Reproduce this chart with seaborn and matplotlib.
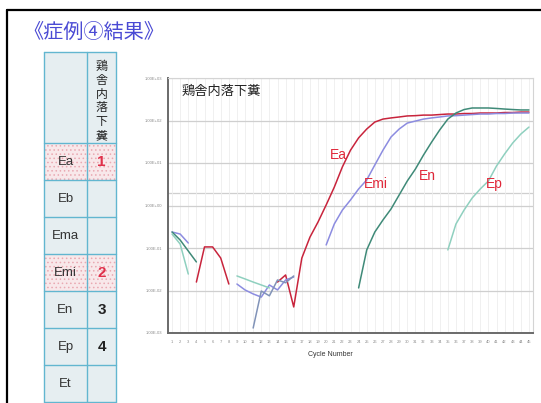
import numpy as np
import pandas as pd
import matplotlib
matplotlib.use("Agg")
import matplotlib.pyplot as plt
import seaborn as sns
from matplotlib.patches import Rectangle
from matplotlib.lines import Line2D
from matplotlib.ticker import FixedLocator, FuncFormatter

# ---------------- data ----------------
nan = np.nan
cycles = list(range(1, 46))

ea = [nan, nan, nan, 0.0158, 0.106, 0.106, 0.058, 0.0142, nan, nan,
      nan, nan, nan, 0.0158, 0.0232, 0.0041, 0.058, 0.18, 0.41, 1.03,
      2.7, 8.1, 20, 39, 63, 92, 108, 115, 121, 128,
      130, 134, 134, 138, 142, 142, 146, 146, 150, 150,
      150, 154, 154, 158, 158]
emi = [0.238, 0.213, 0.131, nan, nan, nan, nan, nan, 0.0142, 0.0103,
       0.0083, 0.0070, 0.0135, 0.0103, 0.0177, 0.0208, nan, nan, nan, 0.118,
       0.367, 0.78, 1.35, 2.45, 4.0, 9.0, 20, 41, 63, 87,
       97, 108, 115, 121, 128, 130, 134, 138, 142, 142,
       146, 146, 150, 150, 150]
en = [0.238, 0.154, 0.085, 0.047, nan, nan, nan, nan, nan, nan,
      nan, nan, nan, nan, nan, nan, nan, nan, nan, nan,
      nan, nan, nan, 0.0115, 0.090, 0.238, 0.456, 0.83, 1.77, 3.77,
      7.2, 15.4, 31, 60, 108, 150, 181, 197, 197, 197,
      192, 186, 181, 177, 177]
ep = [0.213, 0.124, 0.0244, nan, nan, nan, nan, nan, 0.022, 0.0187,
      0.0158, 0.0135, 0.0115, nan, nan, nan, nan, nan, nan, nan,
      nan, nan, nan, nan, nan, nan, nan, nan, nan, nan,
      nan, nan, nan, nan, 0.090, 0.367, 0.78, 1.5, 2.45, 3.77,
      8.5, 16.3, 29.6, 48, 70]
other = [nan, nan, nan, nan, nan, nan, nan, nan, nan, nan,
         0.00131, 0.0097, 0.0075, 0.0177, 0.0152, 0.022, nan, nan, nan, nan,
         nan, nan, nan, nan, nan, nan, nan, nan, nan, nan,
         nan, nan, nan, nan, nan, nan, nan, nan, nan, nan,
         nan, nan, nan, nan, nan]

threshold = 1.97
y_ticks = [1e-3, 1e-2, 1e-1, 1e0, 1e1, 1e2, 1e3]

table_targets = ["Ea", "Eb", "Ema", "Emi", "En", "Ep", "Et"]
table_ranks = ["1", "", "", "2", "3", "4", ""]
rank_colors = ["#e0304a", None, None, "#e0304a", "#222222", "#222222", None]
highlight_rows = [True, False, False, True, False, False, False]
header_text = "鶏舎内落下糞"
title_text = "《症例④結果》"

series = {"Ea": ea, "Emi": emi, "En": en, "Ep": ep, "other": other}
palette = {"Ea": "#c8243c", "Emi": "#8c8ce0", "En": "#3f8a78",
           "Ep": "#8fd0bf", "other": "#8193b8"}

# long-form table, split into contiguous segments
rows = []
for name, vals in series.items():
    seg = 0
    prev_nan = True
    for c, v in zip(cycles, vals):
        if np.isnan(v):
            prev_nan = True
            continue
        if prev_nan:
            seg += 1
            prev_nan = False
        rows.append({"series": name, "unit": f"{name}-{seg}", "cycle": c, "value": v})
df = pd.DataFrame(rows)

# ---------------- figure ----------------
sns.set_theme(style="white")
plt.rcParams["font.family"] = ["Liberation Sans", "Noto Sans CJK JP", "DejaVu Sans"]
plt.rcParams["hatch.linewidth"] = 0.6

W, H = 541, 403
fig = plt.figure(figsize=(W / 100, H / 100), dpi=100)
fig.patch.set_facecolor("white")

bg = fig.add_axes([0, 0, 1, 1])
bg.set_xlim(0, W)
bg.set_ylim(H, 0)
bg.axis("off")

# outer black frame
bg.add_line(Line2D([7, W + 5], [10, 10], color="black", lw=1.6))
bg.add_line(Line2D([7, 7], [10, H + 5], color="black", lw=1.6))

# title
bg.text(23, 32, title_text, fontsize=14.5, color="#4a4ad4", ha="left", va="center",
        family=["Noto Sans CJK JP", "DejaVu Sans"])

# table
xs = [44, 87, 116]
ys = [51.7, 143.3, 180.3, 217.2, 254.2, 291.2, 328.1, 365.1, 402]
bg.add_patch(Rectangle((xs[0], ys[0]), xs[2] - xs[0], ys[-1] - ys[0],
                       facecolor="#e6eef1", edgecolor="none"))
for i, hl in enumerate(highlight_rows):
    if hl:
        y0, y1 = ys[i + 1], ys[i + 2]
        bg.add_patch(Rectangle((xs[0], y0), xs[2] - xs[0], y1 - y0,
                               facecolor="#f8e8ea", edgecolor="none"))
        bg.add_patch(Rectangle((xs[0], y0), xs[2] - xs[0], y1 - y0,
                               facecolor="none", edgecolor="#e9a9b2", hatch="....", lw=0))
grid_c = "#62b6d0"
for y in ys:
    bg.add_line(Line2D([xs[0], xs[2]], [y, y], color=grid_c, lw=1.0))
for x in xs:
    bg.add_line(Line2D([x, x], [ys[0], ys[-1]], color=grid_c, lw=1.0))

bg.text((xs[1] + xs[2]) / 2, 101, "\n".join(header_text), fontsize=8.6, color="#222222",
        ha="center", va="center", linespacing=1.08, family=["Noto Sans CJK JP"])
for i, (t, r, rc) in enumerate(zip(table_targets, table_ranks, rank_colors)):
    yc = (ys[i + 1] + ys[i + 2]) / 2
    bg.text((xs[0] + xs[1]) / 2, yc, t, fontsize=9.5, color="#333333", ha="center", va="center")
    if r:
        bg.text((xs[1] + xs[2]) / 2, yc, r, fontsize=11, color=rc, ha="center", va="center",
                fontweight="bold")

# ---------------- chart ----------------
ax_l, ax_r, ax_t, ax_b = 168, 533, 78, 333
ax = fig.add_axes([ax_l / W, 1 - ax_b / H, (ax_r - ax_l) / W, (ax_b - ax_t) / H])
ax.set_facecolor("white")
ax.set_yscale("log")

sns.lineplot(data=df, x="cycle", y="value", hue="series", units="unit", estimator=None,
             palette=palette, legend=False, lw=1.1, ax=ax, sort=True)

ax.set_xlim(0.5, 45.5)
ax.set_ylim(1e-3, 1e3)
ax.set_axisbelow(True)
ax.yaxis.set_major_locator(FixedLocator(y_ticks))
ax.yaxis.set_minor_locator(FixedLocator([]))
ax.yaxis.set_major_formatter(FuncFormatter(lambda v, p: f"{v:.2E}"))
ax.set_xticks(cycles)
ax.set_xticklabels([str(c) for c in cycles])
ax.tick_params(axis="both", length=0, labelsize=3, colors="#8a8a8a")
ax.tick_params(axis="y", pad=4)
ax.tick_params(axis="x", pad=5)
ax.grid(axis="y", color="#cfcfcf", lw=0.9)
ax.grid(axis="x", color="#eeeeee", lw=0.6)
ax.axhline(threshold, color="#cfcfcf", lw=0.9, zorder=0.5)
ax.set_xlabel("")
ax.set_ylabel("")
for side in ["left", "bottom"]:
    ax.spines[side].set_color("#6a6a6a")
    ax.spines[side].set_linewidth(1.4)
for side in ["top", "right"]:
    ax.spines[side].set_color("#d4d4d4")
    ax.spines[side].set_linewidth(0.8)

# annotations (pixel positions)
bg.text(330, 354, "Cycle Number", fontsize=5, color="#333333", ha="center", va="center")
fig.text(182 / W, 1 - 92 / H, header_text, fontsize=9.5, color="#222222", ha="left",
         va="center", family=["Noto Sans CJK JP"], zorder=10)
lab_c = "#e0283a"
for txt, (px, py) in {"Ea": (338, 155), "Emi": (376, 184), "En": (427, 176), "Ep": (494, 184)}.items():
    fig.text(px / W, 1 - py / H, txt, fontsize=10, color=lab_c, ha="center", va="center", zorder=10)

fig.savefig("out.png", dpi=100)
